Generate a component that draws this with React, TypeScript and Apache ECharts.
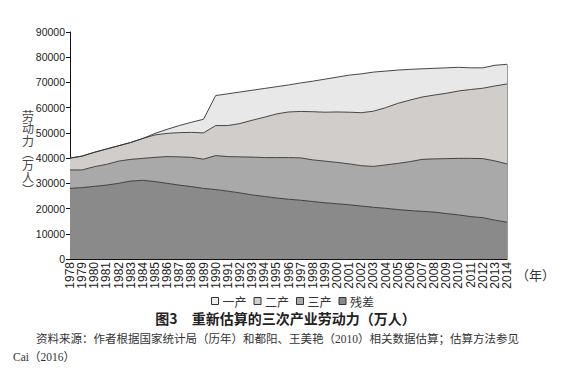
import React, { useEffect, useRef } from "react";
import * as echarts from "echarts";

const years = ["1978","1979","1980","1981","1982","1983","1984","1985","1986","1987","1988","1989","1990","1991","1992","1993","1994","1995","1996","1997","1998","1999","2000","2001","2002","2003","2004","2005","2006","2007","2008","2009","2010","2011","2012","2013","2014"];

const primary = [28000,28300,28800,29300,30000,30900,31200,30700,30000,29300,28700,28000,27500,26900,26200,25400,24800,24200,23700,23300,22800,22300,21900,21500,21000,20500,20100,19600,19200,18900,18600,18000,17500,16800,16400,15400,14600];
const secondary = [7300,7000,7800,8200,8800,8600,8700,9600,10600,11200,11600,11600,13500,13700,14300,15000,15400,16000,16500,16800,16500,16500,16400,16200,16000,16200,17200,18300,19400,20600,21100,21800,22400,23100,23400,23500,23100];
const tertiary = [4700,5500,5700,6100,6100,6700,7900,8900,9200,9600,9900,10400,11900,12300,13200,14600,16000,17300,18100,18400,19100,19400,20000,20500,21000,21900,22700,23800,24400,24700,25300,25900,26700,27300,27900,29700,31700];
const residual = [0,0,0,0,0,0,0,600,1600,2800,4000,5400,11900,12600,12500,11900,11400,10800,10700,11300,12100,13100,13800,14700,15400,15500,14500,13200,12200,11200,10600,10100,9400,8600,8100,8200,7800];

const yTicks = [0, 10000, 20000, 30000, 40000, 50000, 60000, 70000, 80000, 90000];

const seriesNames = ["一产", "二产", "三产", "残差"];
const layerColors = ["#8a8a8a", "#a9a9a9", "#d0cdcb", "#e8e8e8"];
const legendColors = ["#ececec", "#d0cdcb", "#a9a9a9", "#898989"];

const title = "图3　重新估算的三次产业劳动力（万人）";
const source1 = "资料来源：作者根据国家统计局（历年）和都阳、王美艳（2010）相关数据估算；估算方法参见";
const source2 = "Cai（2016）";

export default function App() {
  const ref = useRef<HTMLDivElement>(null);
  useEffect(() => {
    if (!ref.current) return;
    const chart = echarts.init(ref.current, null, { renderer: "svg" });
    const data = [primary, secondary, tertiary, residual];
    const lastIdx = years.length - 1;
    const lastTotal = data.reduce((s, arr) => s + arr[lastIdx], 0);
    const cjk = '"Noto Sans CJK SC", "Liberation Sans", sans-serif';
    chart.setOption({
      animation: false,
      backgroundColor: "#ffffff",
      grid: { left: 70, top: 32, width: 437, height: 227, containLabel: false },
      legend: {
        left: 206,
        top: 290,
        itemWidth: 7,
        itemHeight: 7,
        itemGap: 7,
        icon: "rect",
        textStyle: { fontSize: 12, color: "#333", fontFamily: cjk, padding: [0, 0, 0, -1] },
        data: seriesNames.map((n, i) => ({
          name: n,
          itemStyle: { color: legendColors[i], borderColor: "#333", borderWidth: 1 },
        })),
      },
      xAxis: {
        type: "category",
        data: years,
        boundaryGap: false,
        axisLine: { lineStyle: { color: "#111", width: 1 } },
        axisTick: { inside: true, length: 4, interval: 0, lineStyle: { color: "#111" } },
        axisLabel: {
          interval: 0,
          rotate: 90,
          margin: 3,
          fontSize: 12,
          color: "#222",
          fontFamily: '"Liberation Sans", Arial, sans-serif',
        },
        splitLine: { show: false },
      },
      yAxis: {
        type: "value",
        min: yTicks[0],
        max: yTicks[yTicks.length - 1],
        interval: 10000,
        axisLine: { show: true, lineStyle: { color: "#111", width: 1 } },
        axisTick: { show: true, length: 4, lineStyle: { color: "#111" } },
        axisLabel: {
          margin: 5,
          fontSize: 10.5,
          color: "#222",
          fontFamily: '"Liberation Sans", Arial, sans-serif',
          formatter: (v: number) => String(v),
        },
        splitLine: { show: false },
      },
      series: seriesNames.map((n, i) => ({
        name: n,
        type: "line",
        stack: "total",
        data: data[i],
        showSymbol: false,
        symbol: "none",
        lineStyle: { color: "#333", width: 0.9 },
        itemStyle: { color: layerColors[i] },
        areaStyle: { color: layerColors[i], opacity: 1 },
        z: 2,
        ...(i === seriesNames.length - 1
          ? {
              markLine: {
                silent: true,
                symbol: "none",
                label: { show: false },
                lineStyle: { color: "#9a9a9a", width: 1, type: "solid" },
                data: [[{ coord: [years[lastIdx], 0] }, { coord: [years[lastIdx], lastTotal] }]],
              },
            }
          : {}),
      })),
      graphic: [
        {
          type: "text",
          x: 28,
          y: 109,
          style: {
            text: "劳\n动\n力\n︵\n万\n人\n︶",
            fontSize: 12,
            lineHeight: 12.4,
            fill: "#444",
            fontFamily: cjk,
            align: "center",
            verticalAlign: "top",
          },
        },
        {
          type: "text",
          x: 516,
          y: 268,
          style: { text: "（年）", fontSize: 13, fill: "#333", fontFamily: cjk },
        },
        {
          type: "text",
          left: "center",
          top: 311,
          style: { text: title, fontSize: 14, fontWeight: "bold", fill: "#222", fontFamily: cjk },
        },
        {
          type: "text",
          x: 36,
          y: 333,
          style: { text: source1, fontSize: 11.5, fill: "#333", fontFamily: '"Liberation Serif", "Noto Sans CJK SC", serif' },
        },
        {
          type: "text",
          x: 13,
          y: 351,
          style: { text: source2, fontSize: 11.5, fill: "#333", fontFamily: '"Liberation Serif", "Noto Sans CJK SC", serif' },
        },
      ],
    });
    return () => chart.dispose();
  }, []);
  return (
    <div
      ref={ref}
      style={{ position: "fixed", left: 0, top: 0, width: 571, height: 374, background: "#fff" }}
    />
  );
}
